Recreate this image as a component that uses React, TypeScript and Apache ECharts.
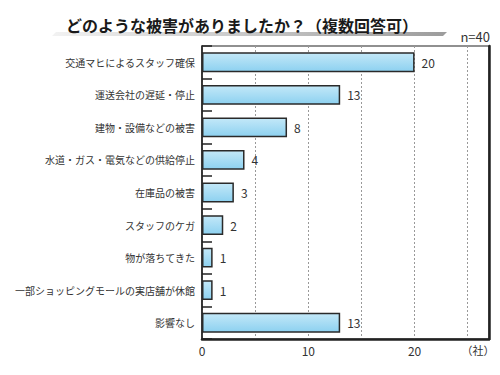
import React, { useEffect, useRef } from "react";
import * as echarts from "echarts";

const categories = [
  "交通マヒによるスタッフ確保",
  "運送会社の遅延・停止",
  "建物・設備などの被害",
  "水道・ガス・電気などの供給停止",
  "在庫品の被害",
  "スタッフのケガ",
  "物が落ちてきた",
  "一部ショッピングモールの実店舗が休館",
  "影響なし",
];
const values = [20, 13, 8, 4, 3, 2, 1, 1, 13];
const titleText = "どのような被害がありましたか？（複数回答可）";
const noteText = "n=40";
const unitText = "（社）";

const FONT = '"Noto Sans CJK JP", "Noto Sans", sans-serif';

export default function App() {
  const ref = useRef<HTMLDivElement>(null);
  useEffect(() => {
    if (!ref.current) return;
    const chart = echarts.init(ref.current, null, { renderer: "svg" });
    chart.setOption({
      animation: false,
      backgroundColor: "#ffffff",
      textStyle: { fontFamily: FONT },
      grid: {
        left: 202,
        right: 11,
        top: 46,
        bottom: 36,
        show: true,
        borderColor: "#222",
        borderWidth: 1.2,
        backgroundColor: "transparent",
      },
      graphic: [
        {
          type: "polygon",
          shape: { points: [[52, 36], [443, 36], [447, 32], [56, 32]] },
          style: {
            fill: new echarts.graphic.LinearGradient(0, 0, 1, 0, [
              { offset: 0, color: "#f2f2f2" },
              { offset: 1, color: "#9c9c9c" },
            ]),
          },
          z: 1,
        },
        {
          type: "text",
          x: 242,
          y: 25,
          style: {
            text: titleText,
            font: `bold 16px ${FONT}`,
            fill: "#1a1a1a",
            align: "center",
            verticalAlign: "middle",
          },
          z: 2,
        },
        {
          type: "text",
          x: 490,
          y: 36,
          style: {
            text: noteText,
            font: `13px ${FONT}`,
            fill: "#333",
            align: "right",
            verticalAlign: "middle",
          },
        },
        {
          type: "text",
          x: 478,
          y: 350,
          style: {
            text: unitText,
            font: `11px ${FONT}`,
            fill: "#333",
            align: "center",
            verticalAlign: "middle",
          },
        },
      ],
      xAxis: {
        type: "value",
        min: 0,
        max: 27,
        interval: 5,
        axisLine: { show: true, lineStyle: { color: "#222", width: 2.5 } },
        axisTick: { show: false },
        axisLabel: {
          fontSize: 12,
          color: "#333",
          margin: 5,
          formatter: (v: number) => (v % 10 === 0 ? String(v) : ""),
        },
        splitLine: {
          show: true,
          lineStyle: { color: "#999", type: [2, 2], width: 1 },
        },
      },
      yAxis: [
        {
          type: "category",
          data: categories,
          inverse: true,
          axisLine: { show: true, lineStyle: { color: "#222", width: 1.5 } },
          axisTick: {
            show: true,
            inside: true,
            length: 10,
            lineStyle: { color: "#222", width: 1.5 },
          },
          axisLabel: { fontSize: 10, color: "#333", margin: 7 },
          splitLine: { show: false },
        },
        {
          type: "category",
          data: categories,
          inverse: true,
          position: "right",
          axisLine: { show: true, lineStyle: { color: "#222", width: 2.5 } },
          axisTick: { show: false },
          axisLabel: { show: false },
          splitLine: { show: false },
        },
      ],
      series: [
        {
          type: "bar",
          data: values,
          barWidth: "61%",
          itemStyle: {
            color: new echarts.graphic.LinearGradient(0, 0, 0, 1, [
              { offset: 0, color: "#c3e8f8" },
              { offset: 1, color: "#8dd1f0" },
            ]),
            borderColor: "#2a2a2a",
            borderWidth: 1.5,
          },
          label: {
            show: true,
            position: "right",
            distance: 7,
            fontSize: 12,
            color: "#333",
          },
        },
      ],
    });
    return () => chart.dispose();
  }, []);
  return <div ref={ref} style={{ width: 500, height: 375, margin: -8 }} />;
}
